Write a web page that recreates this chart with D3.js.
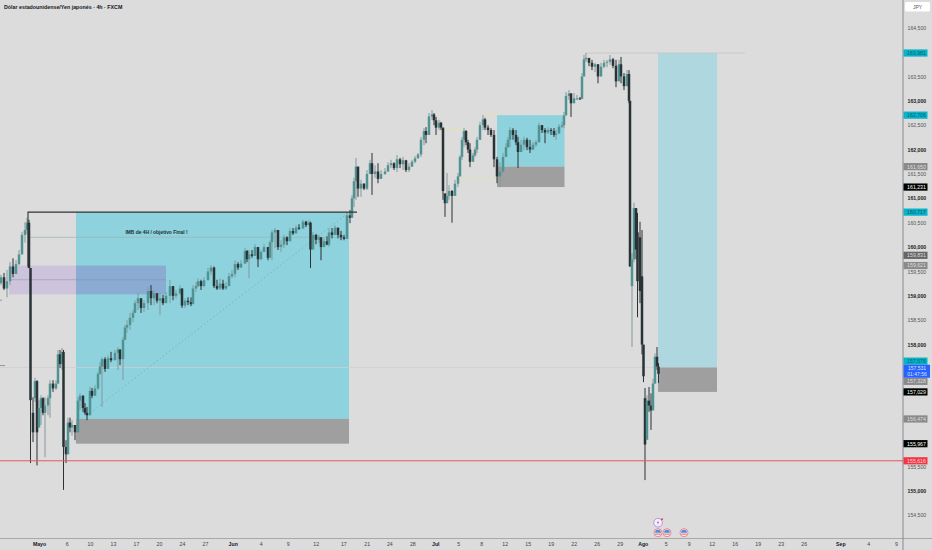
<!DOCTYPE html>
<html>
<head>
<meta charset="utf-8">
<title>USD/JPY 4h</title>
<script src="https://cdn.jsdelivr.net/npm/d3@7"></script>
<style>
  html, body { margin: 0; padding: 0; background: #dcdcdc; overflow: hidden; }
  text { font-family: "Liberation Sans", Arial, sans-serif; }
</style>
</head>
<body>
<div id="chart"></div>
<script>
// bar position on the time axis, one row = ten bars
var barPos = [
  1,4,7,10,13,16,19,22,25,27,
  29,30.5,33,35,37,39,41,43,45,48,
  50,53,56,58,60,62,63.5,66,68,70,
  72,75,78,80,83,85,87,90,92,95,
  98,100,102,105,108,111,115,118,120,123,
  125,127,130,133,135,138,141,144,148,151,
  154,157,160,163,166,170,173,176,180,182,
  185,188,191,193,196,198,201,204,208,211,
  214,217,220,223,226,229,232,235,238,241,
  245,247,249,252,255,258,261,264,268,270,
  272,275,278,281,284,287,290,293,296,299,
  303,306,309,310.5,313,316,319,321,324,327,
  329,332,335,338,341,344,347,350,352,354,
  356,358,361,364,367,370,372,375,378,381,
  385,388,391,394,397,400,403,406,409,412,
  415,418,421,424,426,429,432,434,436,439,
  441,443,445,447,449,452,455,458,460,462,
  464,466,468,470,473,475,477,480,483,485,
  488,491,494,497,500,503,506,508,510,513,
  516,518,521,524,527,530,533,536,539,542,
  545,548,551,554,556,559,562,564,566,569,
  571,574,577,580,582,584,586,589,592,595,
  598,601,604,607,610,613,616,619,621,624,
  627,629,630,632,634,636,637.5,640,642,643.5,
  645,647,649,651,653,655,657,658.5
];
var barOpen = [
  159.26,159.38,159.15,159.30,159.60,159.45,159.65,159.85,160.25,160.35,
  160.50,159.57,156.6,156.9,157.25,156.3,156.7,156.9,156.6,156.75,
  156.9,157.2,157.1,157.2,157.8,157.6,157.85,155.9,155.75,156.4,
  156.3,156.35,156.2,156.85,156.95,156.7,156.6,156.55,157.05,156.95,
  157.1,157.4,157.55,157.7,157.5,157.72,157.68,157.83,157.9,157.7,
  158.1,158.35,158.4,158.55,158.65,158.85,158.95,158.75,158.85,159.1,
  158.95,159.05,158.9,158.95,158.85,159.0,159.2,159.0,159.05,159.15,
  158.8,158.9,158.87,158.83,159.15,159.2,159.3,159.2,159.32,159.5,
  159.58,159.2,159.15,159.25,159.15,159.2,159.4,159.45,159.65,159.58,
  159.66,159.92,159.75,159.85,159.82,160.0,159.75,159.9,160.0,159.78,
  160.1,160.3,160.35,160.0,160.05,160.2,160.12,160.33,160.28,160.4,
  160.38,160.52,160.45,160.5,159.95,160.25,160.15,160.2,160.0,160.12,
  160.05,160.3,160.25,160.4,160.25,160.2,160.17,160.65,160.6,161.0,
  161.35,161.65,161.2,161.3,161.2,161.5,161.72,161.5,161.55,161.4,
  161.5,161.55,161.68,161.72,161.62,161.8,161.7,161.78,161.58,161.65,
  161.75,161.82,161.9,162.2,162.38,162.3,162.68,162.72,162.6,162.45,
  162.55,162.45,161.1,160.9,161.05,161.15,161.05,161.3,161.45,161.85,
  162.2,162.38,162.15,162.0,161.75,161.88,162.0,162.2,162.5,162.62,
  162.45,162.4,162.3,161.8,161.45,161.55,161.85,162.05,162.2,162.4,
  162.3,162.15,161.95,162.1,162.2,162.05,162.0,162.1,162.15,162.5,
  162.4,162.35,162.4,162.38,162.3,162.33,162.47,162.5,162.7,163.1,
  163.15,162.95,163.05,163.05,163.04,163.5,163.85,163.88,163.78,163.7,
  163.75,163.5,163.7,163.78,163.8,163.85,163.72,163.4,163.75,163.5,
  163.3,163.55,163.0,159.2,159.75,160.8,160.3,160.2,159.4,158.0,
  156.9,156.05,156.85,156.75,156.65,157.2,157.75,157.55
];
var barHigh = [
  159.43,159.47,159.53,159.69,159.77,159.73,159.94,160.31,160.51,160.60,
  160.56,159.57,156.92,157.32,157.27,156.86,156.96,156.92,156.92,156.96,
  157.27,157.27,157.27,157.89,157.89,157.93,157.89,156.04,156.5,156.5,
  156.45,156.35,156.92,157.0,156.96,156.8,156.72,157.13,157.11,157.17,
  157.44,157.64,157.74,157.74,157.78,157.85,157.89,157.95,157.89,158.16,
  158.40,158.50,158.65,158.71,158.91,159.06,158.95,158.91,159.18,159.22,
  159.12,159.06,159.06,159.02,159.08,159.33,159.16,159.12,159.22,159.15,
  158.95,158.97,158.97,159.22,159.28,159.36,159.33,159.38,159.57,159.63,
  159.6,159.33,159.36,159.33,159.28,159.47,159.53,159.73,159.69,159.73,
  159.98,159.94,159.94,159.94,160.06,160.0,159.94,160.06,160.0,160.14,
  160.35,160.39,160.35,160.14,160.25,160.22,160.39,160.39,160.45,160.47,
  160.56,160.54,160.56,160.52,160.31,160.27,160.25,160.2,160.18,160.22,
  160.39,160.39,160.45,160.39,160.33,160.25,160.72,160.76,161.07,161.42,
  161.83,161.65,161.38,161.31,161.58,161.79,161.93,161.68,161.72,161.58,
  161.62,161.74,161.79,161.74,161.89,161.83,161.85,161.79,161.72,161.79,
  161.87,161.93,162.26,162.44,162.46,162.75,162.81,162.75,162.67,162.61,
  162.57,162.45,161.1,161.52,161.27,161.17,161.38,161.52,161.89,162.26,
  162.44,162.40,162.2,162.13,161.93,162.05,162.26,162.57,162.71,162.65,
  162.5,162.44,162.4,161.85,161.74,161.93,162.13,162.26,162.46,162.44,
  162.4,162.26,162.2,162.26,162.24,162.2,162.16,162.2,162.55,162.5,
  162.44,162.46,162.44,162.44,162.4,162.52,162.57,162.77,163.18,163.22,
  163.16,163.16,163.12,163.08,163.57,163.94,163.98,163.88,163.84,163.78,
  163.75,163.78,163.84,163.84,163.94,163.88,163.84,163.84,163.9,163.57,
  163.63,163.63,163.0,159.88,160.91,160.66,160.70,160.52,160.35,157.89,
  157.11,156.96,157.13,157.0,157.3,157.82,157.95,157.62
];
var barLow = [
  159.22,159.12,158.97,159.22,159.38,159.45,159.63,159.85,160.09,160.27,
  159.57,155.57,156.0,156.82,155.52,156.3,156.35,156.55,155.69,156.55,
  156.5,157.03,157.07,157.2,157.52,157.48,155.02,155.57,155.75,156.2,
  156.13,156.04,156.2,156.66,156.62,156.56,156.45,156.55,156.9,156.95,
  157.07,157.38,156.72,157.44,157.5,157.64,157.68,157.48,157.58,157.27,
  158.09,158.24,158.30,158.46,158.65,158.71,158.65,158.67,158.71,158.81,
  158.81,158.85,158.60,158.81,158.85,158.85,158.91,158.95,159.02,158.75,
  158.75,158.81,158.79,158.83,159.08,159.18,159.12,159.18,159.32,159.43,
  159.16,159.12,159.12,159.12,159.12,159.2,159.36,159.38,159.53,159.57,
  159.66,159.69,159.36,159.78,159.82,159.59,159.73,159.9,159.73,159.78,
  159.73,159.98,159.94,159.9,159.98,160.04,160.12,160.25,160.28,160.35,
  160.38,160.41,160.45,159.57,159.95,160.06,160.08,159.73,160.0,160.04,
  160.0,160.18,160.25,160.18,160.14,160.14,160.17,160.49,160.6,160.82,
  160.97,161.03,161.03,161.17,161.17,161.5,161.07,161.42,161.31,161.4,
  161.48,161.54,161.62,161.58,161.54,161.62,161.58,161.54,161.54,161.65,
  161.72,161.82,161.85,162.09,162.13,162.3,162.61,162.5,162.3,162.4,
  162.4,160.97,160.62,160.9,160.97,160.5,161.05,161.23,161.45,161.79,
  162.05,162.09,161.93,161.64,161.75,161.85,161.93,162.2,162.4,162.4,
  162.3,162.26,161.64,161.31,161.23,161.52,161.85,162.03,162.05,162.2,
  162.09,161.62,161.95,161.99,161.99,161.93,161.99,162.05,162.15,162.34,
  162.13,162.32,162.3,162.26,162.2,162.33,162.44,162.44,162.7,163.02,
  162.67,162.95,163.02,163.02,163.04,163.5,163.8,163.71,163.63,163.59,
  163.36,163.5,163.67,163.69,163.74,163.67,163.28,163.4,163.36,163.22,
  163.3,162.95,159.6,157.95,159.69,159.75,158.56,158.85,157.8,157.23,
  155.22,156.04,156.62,156.25,156.65,157.2,157.48,157.21
];
var barClose = [
  159.38,159.15,159.30,159.60,159.45,159.65,159.85,160.25,160.35,160.50,
  159.57,156.86,156.2,157.25,156.2,156.7,156.9,156.6,156.75,156.9,
  157.2,157.1,157.2,157.8,157.6,157.85,155.9,155.75,156.4,156.3,
  156.35,156.2,156.85,156.95,156.7,156.6,156.55,157.05,156.95,157.1,
  157.4,157.55,157.7,157.5,157.72,157.68,157.83,157.9,157.7,158.1,
  158.35,158.4,158.55,158.65,158.85,158.95,158.75,158.85,159.1,158.95,
  159.05,158.9,158.95,158.85,159.0,159.2,159.0,159.05,159.15,158.8,
  158.9,158.87,158.83,159.15,159.2,159.3,159.2,159.32,159.5,159.58,
  159.2,159.15,159.25,159.15,159.2,159.4,159.45,159.65,159.58,159.66,
  159.92,159.75,159.85,159.82,160.0,159.75,159.9,160.0,159.78,160.1,
  160.3,160.35,160.0,160.05,160.2,160.12,160.33,160.28,160.4,160.38,
  160.52,160.45,160.5,159.95,160.25,160.15,160.2,160.0,160.12,160.05,
  160.3,160.25,160.4,160.25,160.2,160.17,160.65,160.6,161.0,161.35,
  161.65,161.2,161.3,161.2,161.5,161.72,161.5,161.55,161.4,161.5,
  161.55,161.68,161.72,161.62,161.8,161.7,161.78,161.58,161.65,161.75,
  161.82,161.9,162.2,162.38,162.3,162.68,162.72,162.6,162.45,162.55,
  162.45,161.15,160.9,161.05,161.15,161.05,161.3,161.45,161.85,162.2,
  162.38,162.15,162.0,161.75,161.88,162.0,162.2,162.5,162.62,162.45,
  162.4,162.3,161.8,161.45,161.55,161.85,162.05,162.2,162.4,162.3,
  162.15,161.95,162.1,162.2,162.05,162.0,162.1,162.15,162.5,162.4,
  162.35,162.4,162.38,162.3,162.33,162.47,162.5,162.7,163.1,163.15,
  162.95,163.05,163.05,163.04,163.5,163.85,163.88,163.78,163.7,163.75,
  163.5,163.7,163.78,163.8,163.85,163.72,163.4,163.75,163.5,163.3,
  163.55,163.0,159.6,159.75,160.8,159.95,159.3,159.1,158.0,157.35,
  155.95,156.85,156.75,156.65,157.2,157.75,157.55,157.4
];

// axes
var priceTicks = [164.5,163.5,163,162.5,162,161.5,161,160.5,160,159.5,159,158.5,158,155.5,155,154.5];
var timeLabels = ['Mayo','6','10','13','17','20','24','27','Jun','4','9','12','17','21','24','28','Jul','5','8','12','15','19','22','26','29','Ago','5','9','12','16','19','23','26','Sep','4','9'];
var timePos = [39,66.7,90,113,136,159,182,205,232.7,260.7,287.7,315.7,343.3,366.7,389.3,412.3,435.3,458.3,481.3,504.7,527.7,550.7,573.7,596.7,619.7,642.7,665.7,688.7,711.7,734.7,757.7,780.7,803.7,840.3,868.3,896];
var monthLabels = ['Mayo','Jun','Jul','Ago','Sep'];

// price labels on the scale
var flagPrices = [163.981,162.706,161.650,161.231,160.717,159.831,159.621,157.576,157.328,157.029,156.474,155.967,155.616];
var flagKinds = ['cyan','cyan','gray','black','cyan','dark','gray','cyan','gray','black','gray','black','red'];
var lastPrice = 157.531;
var countdown = '01:47:56';

// position tools: [start, end, top, bottom]
var profitStart = [76,497,658], profitEnd = [349,564.5,717];
var profitTop = [160.717,162.706,163.981], profitBottom = [156.474,161.650,157.531];
var lossBottom = [155.967,161.231,157.029];
var profitFills = ['#8dd2dc','#8dd2dc','#aed7df'];

// thin lines drawn on the chart
var lineX0 = [0,30,585,443,460,482], lineX1 = [660,348,745,464,497,497];
var lineP = [157.531,160.2,163.981,162.43,161.39,162.706];
var lineColors = ['#cfcfcf','#9fb6ba','#c4c4c4','#e6e3a2','#e6e3a2','#e6e3a2'];
var dashX1 = [5,2], dashP = [157.57,158.91];
var supportPrice = 155.616;
var ceilingStart = 28, ceilingEnd = 357, ceilingPrice = 160.717, ceilingFoot = 159.6;
var zoneStart = 9, zoneEnd = 166, zoneTop = 159.621, zoneBottom = 159.03, zoneMid = 159.33;
var tradeX = [87,349], tradeP = [156.55,160.717];
var eventPos = [658,667,684];

var width = 932, height = 550;
var axisX = 903, axisY = 538.5;

var xScale = d3.scaleLinear().domain([0, width]).range([0, width]);
var yScale = d3.scaleLinear().domain([164.5, 154.5]).range([27.7, 515.2]);

var priceFormat = d3.formatLocale({decimal: ',', thousands: '.', grouping: [3], currency: ['', '']}).format('.3f');

var svg = d3.select('#chart').append('svg')
    .attr('width', width)
    .attr('height', height)
    .style('display', 'block');

svg.append('rect').attr('width', width).attr('height', height).attr('fill', '#dcdcdc');

var defs = svg.append('defs');
defs.append('filter').attr('id', 'soft')
    .append('feGaussianBlur').attr('stdDeviation', 0.4);

// position tools
var drawings = svg.append('g');
drawings.selectAll('.profit')
    .data(profitStart)
    .enter().append('rect')
    .attr('class', 'profit')
    .attr('x', function(d){ return xScale(d); })
    .attr('width', function(d, i){ return xScale(profitEnd[i]) - xScale(d); })
    .attr('y', function(d, i){ return yScale(profitTop[i]); })
    .attr('height', function(d, i){ return yScale(profitBottom[i]) - yScale(profitTop[i]); })
    .attr('fill', function(d, i){ return profitFills[i]; });
drawings.selectAll('.loss')
    .data(profitStart)
    .enter().append('rect')
    .attr('class', 'loss')
    .attr('x', function(d){ return xScale(d); })
    .attr('width', function(d, i){ return xScale(profitEnd[i]) - xScale(d); })
    .attr('y', function(d, i){ return yScale(profitBottom[i]); })
    .attr('height', function(d, i){ return yScale(lossBottom[i]) - yScale(profitBottom[i]); })
    .attr('fill', '#9f9f9f');

// purple zone, bluer where it sits over the big position
drawings.append('rect')
    .attr('x', xScale(zoneStart))
    .attr('width', xScale(profitStart[0]) - xScale(zoneStart))
    .attr('y', yScale(zoneTop))
    .attr('height', yScale(zoneBottom) - yScale(zoneTop))
    .attr('fill', '#cdc4dc');
drawings.append('rect')
    .attr('x', xScale(profitStart[0]))
    .attr('width', xScale(zoneEnd) - xScale(profitStart[0]))
    .attr('y', yScale(zoneTop))
    .attr('height', yScale(zoneBottom) - yScale(zoneTop))
    .attr('fill', '#8bacd2');
drawings.append('line')
    .attr('x1', xScale(zoneStart)).attr('x2', xScale(zoneEnd))
    .attr('y1', yScale(zoneMid)).attr('y2', yScale(zoneMid))
    .attr('stroke', '#7f8fa8').attr('stroke-width', 0.5);

drawings.selectAll('.thin')
    .data(lineP)
    .enter().append('line')
    .attr('class', 'thin')
    .attr('x1', function(d, i){ return xScale(lineX0[i]); })
    .attr('x2', function(d, i){ return xScale(lineX1[i]); })
    .attr('y1', function(d){ return yScale(d); })
    .attr('y2', function(d){ return yScale(d); })
    .attr('stroke', function(d, i){ return lineColors[i]; })
    .attr('stroke-width', 0.8);

// short marks on the left edge
drawings.selectAll('.dash')
    .data(dashP)
    .enter().append('line')
    .attr('class', 'dash')
    .attr('x1', xScale(0))
    .attr('x2', function(d, i){ return xScale(dashX1[i]); })
    .attr('y1', function(d){ return yScale(d); })
    .attr('y2', function(d){ return yScale(d); })
    .attr('stroke', '#8e8e8e')
    .attr('stroke-width', 0.9);

// dotted trade line
drawings.append('line')
    .attr('x1', xScale(tradeX[0])).attr('y1', yScale(tradeP[0]))
    .attr('x2', xScale(tradeX[1])).attr('y2', yScale(tradeP[1]))
    .attr('stroke', '#6f9fa6').attr('stroke-width', 0.6).attr('stroke-dasharray', '1.5,2.5');

drawings.append('text')
    .attr('x', 156.5).attr('y', 234)
    .attr('text-anchor', 'middle')
    .attr('font-size', 4.9).attr('font-weight', 'bold').attr('fill', '#1e2f35')
    .text('IMB de 4H / objetivo Final !');

// candles
var up = '#4f9393', down = '#2a3035', wickUp = '#86979a';
var candles = svg.append('g').attr('filter', 'url(#soft)');
candles.selectAll('.wick')
    .data(barPos)
    .enter().append('line')
    .attr('class', 'wick')
    .attr('x1', function(d){ return xScale(d); })
    .attr('x2', function(d){ return xScale(d); })
    .attr('y1', function(d, i){ return yScale(barHigh[i]); })
    .attr('y2', function(d, i){ return yScale(barLow[i]); })
    .attr('stroke-width', 1)
    .attr('stroke', function(d, i){ return barClose[i] >= barOpen[i] ? wickUp : down; });
candles.selectAll('.body')
    .data(barPos)
    .enter().append('rect')
    .attr('class', 'body')
    .attr('x', function(d){ return xScale(d) - 1.25; })
    .attr('width', 2.5)
    .attr('y', function(d, i){ return yScale(Math.max(barOpen[i], barClose[i])); })
    .attr('height', function(d, i){ return Math.max(1, Math.abs(yScale(barOpen[i]) - yScale(barClose[i]))); })
    .attr('fill', function(d, i){ return barClose[i] >= barOpen[i] ? up : down; });

// black ceiling line over the big position, with its foot on the left
svg.append('polyline')
    .attr('points', [[xScale(ceilingStart), yScale(ceilingFoot)], [xScale(ceilingStart), yScale(ceilingPrice)], [xScale(ceilingEnd), yScale(ceilingPrice)]].join(' '))
    .attr('fill', 'none')
    .attr('stroke', '#2c3436').attr('stroke-width', 1.1);

// red support line
svg.append('line')
    .attr('x1', 0).attr('x2', axisX)
    .attr('y1', yScale(supportPrice)).attr('y2', yScale(supportPrice))
    .attr('stroke', '#e8555c').attr('stroke-width', 1);

// title
svg.append('text')
    .attr('x', 4).attr('y', 8.5)
    .attr('font-size', 5.3).attr('font-weight', 'bold').attr('fill', '#131722')
    .text('Dólar estadounidense/Yen japonés · 4h · FXCM');

// time axis
var timeAxis = d3.axisBottom(xScale)
    .tickValues(timePos)
    .tickSize(0)
    .tickPadding(3.5)
    .tickFormat(function(d, i){ return timeLabels[i]; });
var gx = svg.append('g').attr('transform', 'translate(0,' + axisY + ')').call(timeAxis);
gx.select('.domain').remove();
gx.selectAll('text')
    .attr('font-size', 5.2)
    .attr('font-family', '"Liberation Sans", Arial, sans-serif')
    .attr('font-weight', function(d, i){ return monthLabels.indexOf(timeLabels[i]) >= 0 ? 'bold' : 'normal'; })
    .attr('fill', function(d, i){ return monthLabels.indexOf(timeLabels[i]) >= 0 ? '#131722' : '#444'; });

// price axis
var priceAxis = d3.axisRight(yScale)
    .tickValues(priceTicks)
    .tickSize(0)
    .tickPadding(4.5)
    .tickFormat(priceFormat);
var gy = svg.append('g').attr('transform', 'translate(' + axisX + ',0)').call(priceAxis);
gy.select('.domain').remove();
gy.selectAll('text')
    .attr('font-size', 5.2)
    .attr('font-family', '"Liberation Sans", Arial, sans-serif')
    .attr('font-weight', function(d){ return d % 1 === 0 ? 'bold' : 'normal'; })
    .attr('fill', function(d){ return d % 1 === 0 ? '#222' : '#555'; });

svg.append('line').attr('x1', 0).attr('x2', width).attr('y1', axisY).attr('y2', axisY)
    .attr('stroke', '#9a9a9a').attr('stroke-width', 0.8);
svg.append('line').attr('x1', axisX).attr('x2', axisX).attr('y1', 0).attr('y2', height)
    .attr('stroke', '#74777f').attr('stroke-width', 0.8);

// currency box
svg.append('rect').attr('x', 905).attr('y', 2).attr('width', 25).attr('height', 9.5).attr('rx', 1.5).attr('fill', '#ffffff');
svg.append('text').attr('x', 917.5).attr('y', 8.8).attr('text-anchor', 'middle')
    .attr('font-size', 5).attr('fill', '#555').text('JPY');

// live price box, flags that would sit under it get pushed above or below
var flagHalf = 3.6, liveHeight = 13;
var liveTop = yScale(lastPrice) - 2.7, liveBottom = liveTop + liveHeight;
function flagY(p){
    var y = yScale(p);
    if (y + flagHalf > liveTop && y - flagHalf < liveBottom){
        return y < liveTop + liveHeight / 2 ? liveTop - flagHalf : liveBottom + flagHalf;
    }
    return y;
}

var flagStyle = {
    cyan: {fill: '#06b3c9', text: '#0d5e6b'},
    gray: {fill: '#8a8a8a', text: '#dddddd'},
    dark: {fill: '#666666', text: '#dddddd'},
    black: {fill: '#000000', text: '#ffffff'},
    red: {fill: '#f23645', text: '#ffd7da'}
};
var flags = svg.append('g').selectAll('g')
    .data(flagPrices)
    .enter().append('g')
    .attr('transform', function(d){ return 'translate(' + (axisX + 0.5) + ',' + flagY(d) + ')'; });
flags.append('rect')
    .attr('x', 0).attr('y', -flagHalf).attr('width', 24).attr('height', flagHalf * 2)
    .attr('fill', function(d, i){ return flagStyle[flagKinds[i]].fill; });
flags.append('text')
    .attr('x', 13).attr('y', 1.9)
    .attr('text-anchor', 'middle').attr('font-size', 5.2)
    .attr('fill', function(d, i){ return flagStyle[flagKinds[i]].text; })
    .text(function(d){ return priceFormat(d); });

var live = svg.append('g').attr('transform', 'translate(' + (axisX + 0.5) + ',' + liveTop + ')');
live.append('rect').attr('width', 26.5).attr('height', liveHeight).attr('fill', '#2962ff');
live.append('text').attr('x', 13.5).attr('y', 5.4).attr('text-anchor', 'middle')
    .attr('font-size', 5).attr('fill', '#dbe4ff').text(priceFormat(lastPrice));
live.append('text').attr('x', 13.5).attr('y', 11.4).attr('text-anchor', 'middle')
    .attr('font-size', 5).attr('fill', '#dbe4ff').text(countdown);

// economic event icons above the time axis
var icons = svg.append('g').selectAll('g')
    .data(eventPos)
    .enter().append('g')
    .attr('transform', function(d){ return 'translate(' + xScale(d) + ',532.7)'; });
icons.append('circle').attr('r', 4).attr('fill', '#f5f5f5').attr('stroke', '#ee6a75').attr('stroke-width', 0.8);
icons.append('path').attr('d', d3.arc()({innerRadius: 0, outerRadius: 3, startAngle: -Math.PI / 2, endAngle: Math.PI / 2})).attr('fill', '#4a8fe0');
icons.append('line').attr('x1', -2.8).attr('x2', 2.8).attr('y1', 1.4).attr('y2', 1.4).attr('stroke', '#e25560').attr('stroke-width', 0.9);

var news = svg.append('g').attr('transform', 'translate(' + xScale(eventPos[0]) + ',522.7)');
news.append('circle').attr('r', 4.3).attr('fill', '#f4f0f8').attr('stroke', '#b58ad6').attr('stroke-width', 0.9);
news.append('path').attr('d', 'M0.6,-2.4 L-1.2,0.4 L0,0.4 L-0.6,2.4 L1.2,-0.5 L0,-0.5 Z').attr('fill', '#9c5cd0');
news.append('circle').attr('cx', 4).attr('cy', -3.5).attr('r', 1).attr('fill', '#f23645');
</script>
</body>
</html>
